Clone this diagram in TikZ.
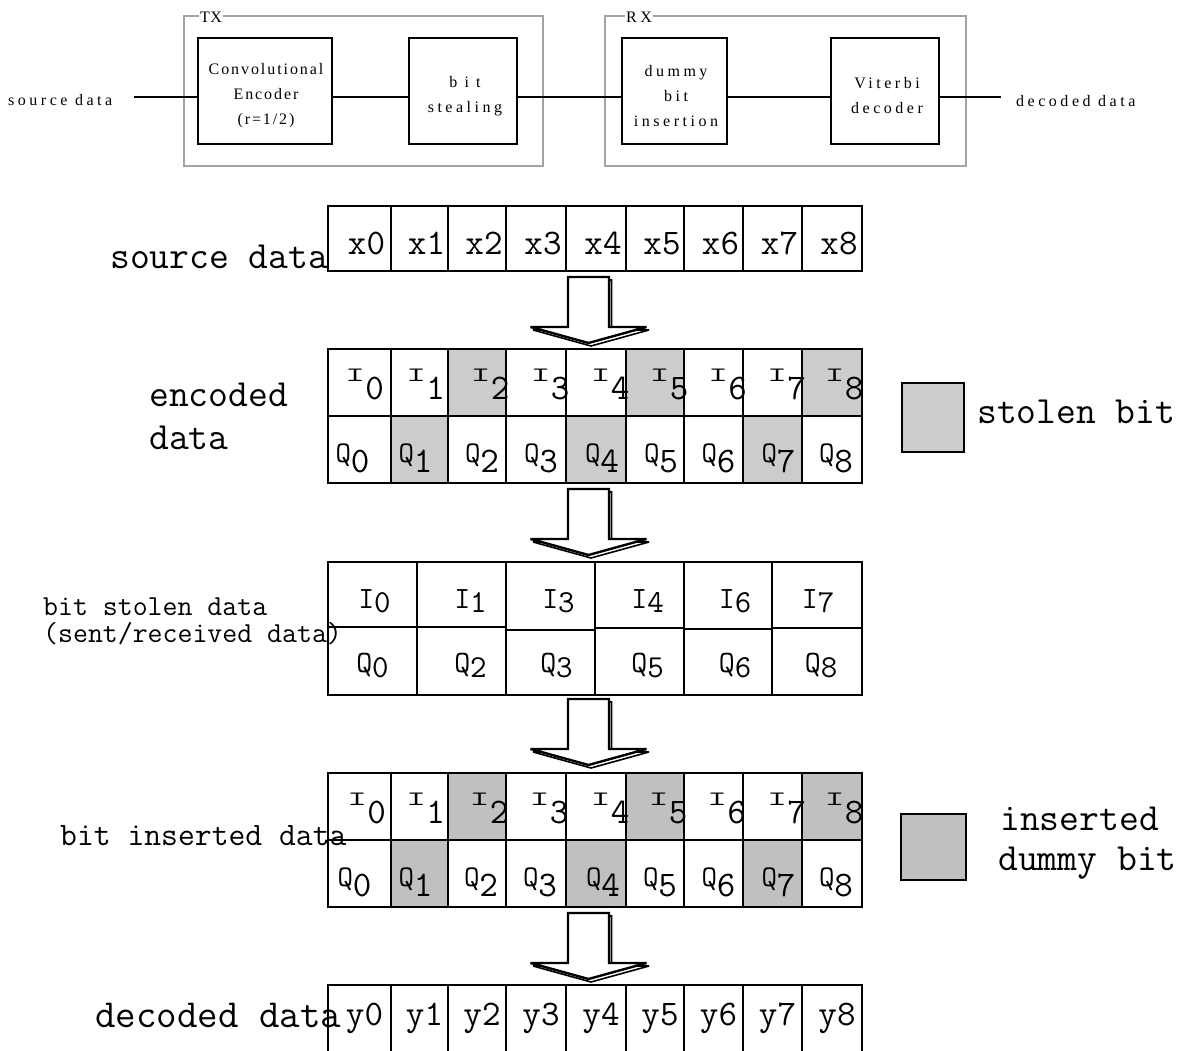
\documentclass[tikz,border=0pt]{standalone}
\usepackage{fontspec}
\setmainfont{Liberation Serif}
\newfontfamily\blockfont{Liberation Serif}[LetterSpace=22]
\newfontfamily\blockfontnarrow{Liberation Serif}[LetterSpace=12]
\newfontfamily\blockfonttight{Liberation Serif}[LetterSpace=3]
\usetikzlibrary{calc}
\definecolor{stolengray}{HTML}{CCCCCC}
\definecolor{insgray}{HTML}{C0C0C0}
\definecolor{framegray}{HTML}{A3A3A3}

% cell labels: I/Q symbols with large dropped indices
\newcommand\Ibig[1]{\scalebox{1.15}[0.6]{\fontsize{34}{34}\selectfont I}\raisebox{-18pt}{\fontsize{36}{36}\selectfont #1}}
\newcommand\Qbig[1]{{\fontsize{30}{30}\selectfont Q}\raisebox{-10pt}{\fontsize{36}{36}\selectfont #1}}
\newcommand\Ismall[1]{{\fontsize{31}{31}\selectfont I}\raisebox{-4pt}{\fontsize{32}{32}\selectfont #1}}
\newcommand\Qsmall[1]{{\fontsize{31}{31}\selectfont Q}\raisebox{-5pt}{\fontsize{32}{32}\selectfont #1}}

\begin{document}
\begin{tikzpicture}[x=1pt,y=-1pt,
  groupframe/.style={draw=framegray, line width=1.6pt, minimum height=150pt, inner sep=0pt},
  block/.style={draw, line width=2pt, minimum height=106pt, inner sep=0pt},
  blocktext/.style={align=center, font=\blockfont\fontsize{16}{25}\selectfont, inner sep=0pt},
  framelabel/.style={fill=white, inner sep=1.5pt, anchor=base, font=\blockfonttight\fontsize{16}{16}\selectfont},
  toplabel/.style={anchor=base west, inner sep=0pt, font=\blockfont\fontsize{16}{16}\selectfont},
  wire/.style={line width=2pt},
  cell/.style={draw, line width=2.4pt, inner sep=0pt, outer sep=0pt, anchor=north west},
  stolen/.style={cell, fill=stolengray},
  inserted/.style={cell, fill=insgray},
  celltext/.style={font=\ttfamily, inner sep=0pt, anchor=base},
  digittext/.style={font=\ttfamily\fontsize{36}{36}\selectfont, inner sep=0pt, anchor=base},
  rowlabel/.style={inner sep=0pt, anchor=base west},
  pics/hollowarrow/.style={code={
    \draw[line width=1.6pt, miter limit=3, shift={(2.5,3)}]
      (-20.5,0) -- (20.5,0) -- (20.5,50) -- (58,50) -- (0,66) -- (-58,50) -- (-20.5,50) -- cycle;
    \draw[line width=2.4pt, fill=white, miter limit=3]
      (-20.5,0) -- (20.5,0) -- (20.5,50) -- (58,50) -- (0,66) -- (-58,50) -- (-20.5,50) -- cycle;
  }}
]
\useasboundingbox (0,0) rectangle (1183,1051);
\fill[white] (0,0) rectangle (1183,1051);

% ---------------- transmitter / receiver chain ----------------
\node[groupframe, minimum width=359pt] (tx) at (363.5,91) {};
\node[groupframe, minimum width=361pt] (rx) at (785.5,91) {};
\node[framelabel] (txlab) at (211,23) {TX};
\node[framelabel, font=\blockfont\fontsize{16}{16}\selectfont] (rxlab) at (639,23) {RX};

\node[block, minimum width=134pt] (conv)  at (265,91) {};
\node[block, minimum width=108pt] (steal) at (463,91) {};
\node[block, minimum width=105pt] (dummy) at (674.5,91) {};
\node[block, minimum width=108pt] (vit)   at (885,91) {};

\node[blocktext, font=\blockfontnarrow\fontsize{16}{25}\selectfont] (convtxt) at (266,96) {Convolutional\\Encoder\\(r=1/2)};
\node[blocktext] (stealtxt) at (465,96)   {{\addfontfeature{LetterSpace=45}bit}\\stealing};
\node[blocktext] (dummytxt) at (676,96)   {dummy\\bit\\insertion};
\node[blocktext] (vittxt)   at (887,96)   {Viterbi\\decoder};

\coordinate (srcend) at (134,97);
\coordinate (dstend) at (1001,97);
\draw[wire] (srcend) -- (srcend -| conv.west);
\draw[wire] (conv.east |- srcend) -- (steal.west |- srcend);
\draw[wire] (steal.east |- srcend) -- (dummy.west |- srcend);
\draw[wire] (dummy.east |- srcend) -- (vit.west |- srcend);
\draw[wire] (vit.east |- srcend) -- (dstend);

\node[toplabel] (srclab) at (8,106) {source data};
\node[toplabel] (dstlab) at (1016,107) {decoded data};

% ---------------- source data row ----------------
\node[rowlabel, font=\ttfamily\fontsize{38.5}{38.5}\selectfont] (srcrow) at (110,268) {source data};
\foreach \n/\a/\b in {0/328/391,1/391/448,2/448/506,3/506/566,4/566/626,5/626/684,6/684/743,7/743/802,8/802/862}{
  \node[cell, minimum width={\b-\a}, minimum height=65] (src\n) at (\a,206) {};
}
\foreach \n/\a/\b in {0/328/391,1/391/448,2/448/506,3/506/566,4/566/626,5/626/684,6/684/743,7/743/802,8/802/862}{
  \node[digittext] (srct\n) at ({(\a+\b)/2+7},254) {x\n};
}

\pic (arrA) at (588.5,277) {hollowarrow};

% ---------------- encoded data rows ----------------
\node[rowlabel, font=\ttfamily\fontsize{38.5}{38.5}\selectfont] (enclabA) at (149,406) {encoded};
\node[rowlabel, font=\ttfamily\fontsize{38.5}{38.5}\selectfont] (enclabB) at (149,449) {data};
\foreach \n/\a/\b/\is/\qs in {0/328/391/cell/cell,1/391/448/cell/stolen,2/448/506/stolen/cell,
    3/506/566/cell/cell,4/566/626/cell/stolen,5/626/684/stolen/cell,6/684/743/cell/cell,
    7/743/802/cell/stolen,8/802/862/stolen/cell}{
  \node[\is, minimum width={\b-\a}, minimum height=67] (encI\n) at (\a,349) {};
  \node[\qs, minimum width={\b-\a}, minimum height=67] (encQ\n) at (\a,416) {};
}
\foreach \n/\a/\b/\di/\dq in {0/328/391/5/-7,1/391/448/6/-4,2/448/506/13/5,3/506/566/14/5,
    4/566/626/14/6,5/626/684/14/6,6/684/743/14/5,7/743/802/14/6,8/802/862/12/4}{
  \node[celltext] (encIt\n) at ({(\a+\b)/2+\di},381) {\Ibig{\n}};
  \node[celltext] (encQt\n) at ({(\a+\b)/2+\dq},462) {\Qbig{\n}};
}
\node[stolen, minimum width=62, minimum height=69] (legstolen) at (902,383) {};
\node[rowlabel, font=\ttfamily\fontsize{38.5}{38.5}\selectfont] (legstolentxt) at (977,423) {stolen bit};

\pic (arrB) at (588.5,489) {hollowarrow};

% ---------------- bit stolen (sent/received) rows ----------------
\node[rowlabel, font=\ttfamily\fontsize{29}{29}\selectfont] (sentlabA) at (43,615) {bit stolen data};
\node[rowlabel, font=\ttfamily\fontsize{29}{29}\selectfont] (sentlabB) at (43,642) {(sent/received data)};
\foreach \n/\a/\b/\m in {1/328/417/627,2/417/506/627,3/506/595/630,4/595/684/628,5/684/772/629,6/772/862/628}{
  \node[cell, minimum width={\b-\a}, minimum height={\m-562}] (sentI\n) at (\a,562) {};
  \node[cell, minimum width={\b-\a}, minimum height={695-\m}] (sentQ\n) at (\a,\m) {};
}
\foreach \n/\a/\b/\il/\ql/\di/\dq in {1/328/417/0/0/2/0,2/417/506/1/2/9/9,3/506/595/3/3/8/6,
    4/595/684/4/5/8/8,5/684/772/6/6/7/7,6/772/862/7/8/1/4}{
  \node[celltext] (sentIt\n) at ({(\a+\b)/2+\di},608) {\Ismall{\il}};
  \node[celltext] (sentQt\n) at ({(\a+\b)/2+\dq},672) {\Qsmall{\ql}};
}

\pic (arrC) at (588.5,699) {hollowarrow};

% ---------------- bit inserted rows ----------------
\foreach \n/\a/\b/\is/\qs in {0/328/391/cell/cell,1/391/448/cell/inserted,2/448/506/inserted/cell,
    3/506/566/cell/cell,4/566/626/cell/inserted,5/626/684/inserted/cell,6/684/743/cell/cell,
    7/743/802/cell/inserted,8/802/862/inserted/cell}{
  \node[\is, minimum width={\b-\a}, minimum height=67] (insI\n) at (\a,773) {};
  \node[\qs, minimum width={\b-\a}, minimum height=67] (insQ\n) at (\a,840) {};
}
\node[rowlabel, font=\ttfamily\fontsize{32.7}{32.7}\selectfont] (inslab) at (60,845) {bit inserted data};
\foreach \n/\a/\b/\di/\dq in {0/328/391/7/-5,1/391/448/6/-4,2/448/506/12/4,3/506/566/13/4,
    4/566/626/14/7,5/626/684/13/5,6/684/743/13/5,7/743/802/14/6,8/802/862/12/4}{
  \node[celltext] (insIt\n) at ({(\a+\b)/2+\di},805) {\Ibig{\n}};
  \node[celltext] (insQt\n) at ({(\a+\b)/2+\dq},886) {\Qbig{\n}};
}
\node[inserted, minimum width=65, minimum height=66] (legins) at (901,814) {};
\node[rowlabel, font=\ttfamily\fontsize{38.5}{38.5}\selectfont] (leginstxtA) at (1000,830) {inserted};
\node[rowlabel, font=\ttfamily\fontsize{38.5}{38.5}\selectfont] (leginstxtB) at (998,870) {dummy bit};

\pic (arrD) at (588.5,913) {hollowarrow};

% ---------------- decoded data row ----------------
\node[rowlabel, font=\ttfamily\fontsize{39.8}{39.8}\selectfont] (decrow) at (95,1027) {decoded data};
\foreach \n/\a/\b in {0/328/391,1/391/448,2/448/506,3/506/566,4/566/626,5/626/684,6/684/743,7/743/802,8/802/862}{
  \node[cell, minimum width={\b-\a}, minimum height=90] (dec\n) at (\a,985) {};
}
\foreach \n/\a/\b in {0/328/391,1/391/448,2/448/506,3/506/566,4/566/626,5/626/684,6/684/743,7/743/802,8/802/862}{
  \node[digittext] (dect\n) at ({(\a+\b)/2+5},1025) {y\n};
}
\end{tikzpicture}
\end{document}
